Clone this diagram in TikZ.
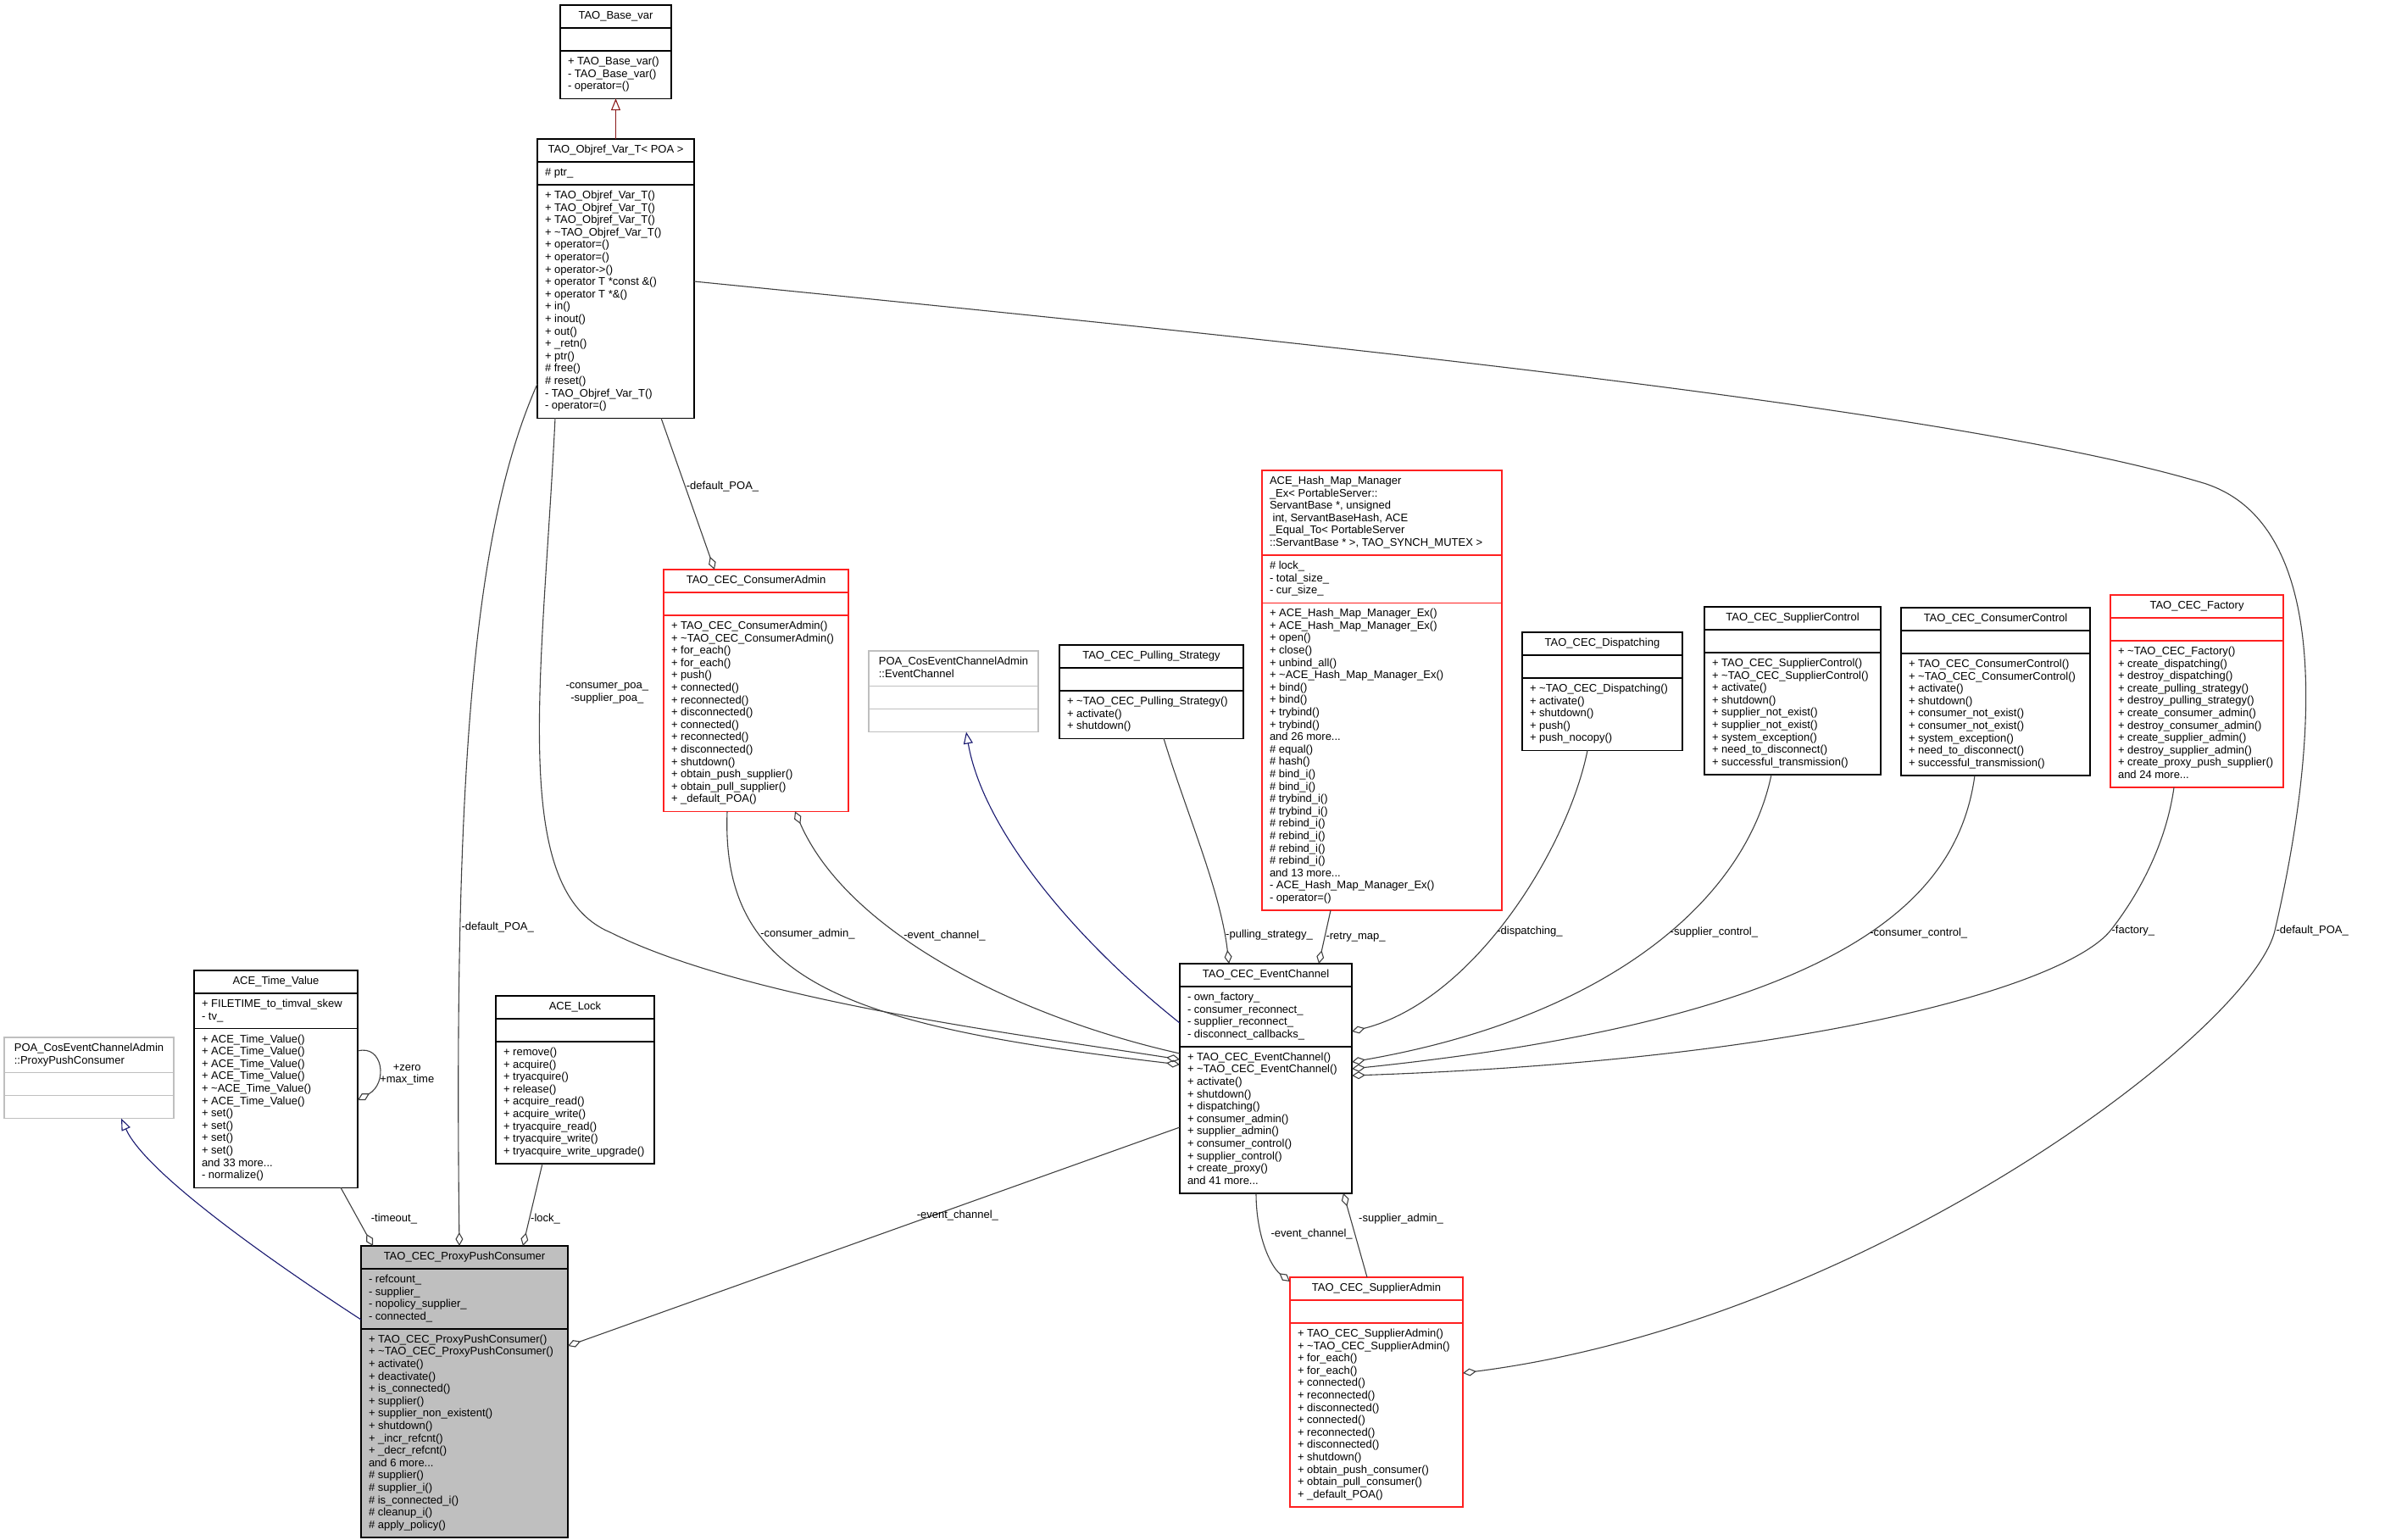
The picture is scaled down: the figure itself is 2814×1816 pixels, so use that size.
\documentclass[tikz,border=0pt]{standalone}
\usepackage{fontspec}
\setmainfont{Liberation Sans}
\usetikzlibrary{shapes.multipart,arrows.meta,calc}

\definecolor{edgegrey}{HTML}{404040}
\definecolor{pubblue}{HTML}{191970}
\definecolor{privred}{HTML}{8B1A1A}
\definecolor{undocgrey}{HTML}{BFBFBF}
\definecolor{truncred}{HTML}{FF2020}

\begin{document}
\begin{tikzpicture}[x=1pt,y=-1pt,font=\fontsize{13}{14.6}\selectfont]
    \tikzstyle{class box}=[rectangle split, rectangle split parts=3, draw=black, line width=1.4pt,
        outer sep=0pt, inner xsep=9pt, inner ysep=5.5pt, align=left, anchor=north west,
        rectangle split part align={center,left,left}]
    \tikzstyle{red class box}=[class box, draw=truncred]
    \tikzstyle{grey class box}=[class box, draw=undocgrey]
    \tikzstyle{this class box}=[class box, fill=undocgrey]
    \tikzstyle{member edge}=[draw=edgegrey, line width=1.1pt, -{Diamond[open,length=16pt,width=9pt]}]
    \tikzstyle{public edge}=[draw=pubblue, line width=1.1pt, -{Triangle[open,length=14pt,width=11pt]}]
    \tikzstyle{private edge}=[draw=privred, line width=1.1pt, -{Triangle[open,length=14pt,width=11pt]}]
    \tikzstyle{edge label}=[inner sep=1pt, align=center]

    \useasboundingbox (0,0) rectangle (2814,1816);

    % Bases
    \node[class box, minimum width=131pt] (basevar) at (661,6)
        {\strut TAO\_Base\_var\nodepart{second}\strut\nodepart{third}\strut+ TAO\_Base\_var()\\- TAO\_Base\_var()\\- operator=()\strut};
    \node[class box, minimum width=185pt] (objref) at (634,164)
        {\strut TAO\_Objref\_Var\_T< POA >\nodepart{second}\strut\# ptr\_\nodepart{third}\strut+ TAO\_Objref\_Var\_T()\\+ TAO\_Objref\_Var\_T()\\+ TAO\_Objref\_Var\_T()\\+ \textasciitilde TAO\_Objref\_Var\_T()\\+ operator=()\\+ operator=()\\+ operator->()\\+ operator T *const \&()\\+ operator T *\&()\\+ in()\\+ inout()\\+ out()\\+ \_retn()\\+ ptr()\\\# free()\\\# reset()\\- TAO\_Objref\_Var\_T()\\- operator=()\strut};
    \node[grey class box, minimum width=200pt] (poappc) at (5,1224)
        {\strut POA\_CosEventChannelAdmin\\::ProxyPushConsumer\strut\nodepart{second}\strut\nodepart{third}\strut};
    \node[grey class box, minimum width=200pt] (poaec) at (1025,768)
        {\strut POA\_CosEventChannelAdmin\\::EventChannel\strut\nodepart{second}\strut\nodepart{third}\strut};

    % Members of the proxy
    \node[class box, minimum width=193pt] (timevalue) at (229,1145)
        {\strut ACE\_Time\_Value\nodepart{second}\strut+ FILETIME\_to\_timval\_skew\\- tv\_\strut\nodepart{third}\strut+ ACE\_Time\_Value()\\+ ACE\_Time\_Value()\\+ ACE\_Time\_Value()\\+ ACE\_Time\_Value()\\+ \textasciitilde ACE\_Time\_Value()\\+ ACE\_Time\_Value()\\+ set()\\+ set()\\+ set()\\+ set()\\and 33 more...\\- normalize()\strut};
    \node[class box, minimum width=187pt] (lock) at (585,1175)
        {\strut ACE\_Lock\nodepart{second}\strut\nodepart{third}\strut+ remove()\\+ acquire()\\+ tryacquire()\\+ release()\\+ acquire\_read()\\+ acquire\_write()\\+ tryacquire\_read()\\+ tryacquire\_write()\\+ tryacquire\_write\_upgrade()\strut};
    \node[this class box, minimum width=244pt] (ppc) at (426,1470)
        {\strut TAO\_CEC\_ProxyPushConsumer\nodepart{second}\strut- refcount\_\\- supplier\_\\- nopolicy\_supplier\_\\- connected\_\strut\nodepart{third}\strut+ TAO\_CEC\_ProxyPushConsumer()\\+ \textasciitilde TAO\_CEC\_ProxyPushConsumer()\\+ activate()\\+ deactivate()\\+ is\_connected()\\+ supplier()\\+ supplier\_non\_existent()\\+ shutdown()\\+ \_incr\_refcnt()\\+ \_decr\_refcnt()\\and 6 more...\\\# supplier()\\\# supplier\_i()\\\# is\_connected\_i()\\\# cleanup\_i()\\\# apply\_policy()\strut};

    % Members of the event channel
    \node[red class box, minimum width=218pt] (cadmin) at (783,672)
        {\strut TAO\_CEC\_ConsumerAdmin\nodepart{second}\strut\nodepart{third}\strut+ TAO\_CEC\_ConsumerAdmin()\\+ \textasciitilde TAO\_CEC\_ConsumerAdmin()\\+ for\_each()\\+ for\_each()\\+ push()\\+ connected()\\+ reconnected()\\+ disconnected()\\+ connected()\\+ reconnected()\\+ disconnected()\\+ shutdown()\\+ obtain\_push\_supplier()\\+ obtain\_pull\_supplier()\\+ \_default\_POA()\strut};
    \node[class box, minimum width=217pt] (pulling) at (1250,761)
        {\strut TAO\_CEC\_Pulling\_Strategy\nodepart{second}\strut\nodepart{third}\strut+ \textasciitilde TAO\_CEC\_Pulling\_Strategy()\\+ activate()\\+ shutdown()\strut};
    \node[red class box, minimum width=283pt, rectangle split part align={left,left,left}] (hashmap) at (1489,555)
        {\strut ACE\_Hash\_Map\_Manager\\\_Ex< PortableServer::\\ServantBase *, unsigned\\\ int, ServantBaseHash, ACE\\\_Equal\_To< PortableServer\\::ServantBase * >, TAO\_SYNCH\_MUTEX >\strut\nodepart{second}\strut\# lock\_\\- total\_size\_\\- cur\_size\_\strut\nodepart{third}\strut+ ACE\_Hash\_Map\_Manager\_Ex()\\+ ACE\_Hash\_Map\_Manager\_Ex()\\+ open()\\+ close()\\+ unbind\_all()\\+ \textasciitilde ACE\_Hash\_Map\_Manager\_Ex()\\+ bind()\\+ bind()\\+ trybind()\\+ trybind()\\and 26 more...\\\# equal()\\\# hash()\\\# bind\_i()\\\# bind\_i()\\\# trybind\_i()\\\# trybind\_i()\\\# rebind\_i()\\\# rebind\_i()\\\# rebind\_i()\\\# rebind\_i()\\and 13 more...\\- ACE\_Hash\_Map\_Manager\_Ex()\\- operator=()\strut};
    \node[class box, minimum width=189pt] (dispatching) at (1796,746)
        {\strut TAO\_CEC\_Dispatching\nodepart{second}\strut\nodepart{third}\strut+ \textasciitilde TAO\_CEC\_Dispatching()\\+ activate()\\+ shutdown()\\+ push()\\+ push\_nocopy()\strut};
    \node[class box, minimum width=208pt] (supctrl) at (2011,716)
        {\strut TAO\_CEC\_SupplierControl\nodepart{second}\strut\nodepart{third}\strut+ TAO\_CEC\_SupplierControl()\\+ \textasciitilde TAO\_CEC\_SupplierControl()\\+ activate()\\+ shutdown()\\+ supplier\_not\_exist()\\+ supplier\_not\_exist()\\+ system\_exception()\\+ need\_to\_disconnect()\\+ successful\_transmission()\strut};
    \node[class box, minimum width=223pt] (conctrl) at (2243,717)
        {\strut TAO\_CEC\_ConsumerControl\nodepart{second}\strut\nodepart{third}\strut+ TAO\_CEC\_ConsumerControl()\\+ \textasciitilde TAO\_CEC\_ConsumerControl()\\+ activate()\\+ shutdown()\\+ consumer\_not\_exist()\\+ consumer\_not\_exist()\\+ system\_exception()\\+ need\_to\_disconnect()\\+ successful\_transmission()\strut};
    \node[red class box, minimum width=204pt] (factory) at (2490,702)
        {\strut TAO\_CEC\_Factory\nodepart{second}\strut\nodepart{third}\strut+ \textasciitilde TAO\_CEC\_Factory()\\+ create\_dispatching()\\+ destroy\_dispatching()\\+ create\_pulling\_strategy()\\+ destroy\_pulling\_strategy()\\+ create\_consumer\_admin()\\+ destroy\_consumer\_admin()\\+ create\_supplier\_admin()\\+ destroy\_supplier\_admin()\\+ create\_proxy\_push\_supplier()\\and 24 more...\strut};
    \node[class box, minimum width=203pt] (ec) at (1392,1137)
        {\strut TAO\_CEC\_EventChannel\nodepart{second}\strut- own\_factory\_\\- consumer\_reconnect\_\\- supplier\_reconnect\_\\- disconnect\_callbacks\_\strut\nodepart{third}\strut+ TAO\_CEC\_EventChannel()\\+ \textasciitilde TAO\_CEC\_EventChannel()\\+ activate()\\+ shutdown()\\+ dispatching()\\+ consumer\_admin()\\+ supplier\_admin()\\+ consumer\_control()\\+ supplier\_control()\\+ create\_proxy()\\and 41 more...\strut};
    \node[red class box, minimum width=204pt] (supadmin) at (1522,1507)
        {\strut TAO\_CEC\_SupplierAdmin\nodepart{second}\strut\nodepart{third}\strut+ TAO\_CEC\_SupplierAdmin()\\+ \textasciitilde TAO\_CEC\_SupplierAdmin()\\+ for\_each()\\+ for\_each()\\+ connected()\\+ reconnected()\\+ disconnected()\\+ connected()\\+ reconnected()\\+ disconnected()\\+ shutdown()\\+ obtain\_push\_consumer()\\+ obtain\_pull\_consumer()\\+ \_default\_POA()\strut};

    % Inheritance
    \draw[private edge] (objref.north) -- (basevar.south);
    \draw[public edge] ($(ppc.north west)+(0,87)$) .. controls (300,1475) and (170,1380) .. ($(poappc.south west)+(138,0)$);
    \draw[public edge] ($(ec.north west)+(0,70)$) .. controls (1270,1110) and (1160,980) .. ($(poaec.south west)+(115,0)$);

    % Members of the proxy
    \draw[member edge] ($(timevalue.south west)+(173,0)$) -- ($(ppc.north west)+(14,0)$)
        node[edge label, pos=0.534, anchor=west, xshift=14pt] {-timeout\_};
    \draw[member edge] ($(timevalue.north east)+(0,95)$) .. controls (452,1232) and (458,1278) .. ($(timevalue.north east)+(0,153)$)
        node[edge label, pos=0.5, anchor=west, yshift=-9.5pt] {+zero\\+max\_time};
    \draw[member edge] ($(lock.south west)+(55,0)$) -- ($(ppc.north west)+(191,0)$)
        node[edge label, pos=0.667, anchor=west] {-lock\_};
    \draw[member edge] ($(objref.north west)+(0,289)$) .. controls (560,620) and (535,900) .. ($(ppc.north west)+(116,0)$)
        node[edge label, pos=0.75, anchor=west] {-default\_POA\_};
    \draw[member edge] ($(ec.north west)+(0,193)$) -- ($(ppc.north west)+(244,118)$)
        node[edge label, pos=0.363, anchor=north, yshift=-3pt] {-event\_channel\_};

    % Members of the event channel
    \draw[member edge] ($(objref.south west)+(21,0)$) .. controls (640,800) and (600,1050) .. (720,1100)
        node[edge label, pos=0.39, anchor=west, xshift=29pt] {-consumer\_poa\_\\-supplier\_poa\_}
        .. controls (880,1180) and (1200,1220) .. ($(ec.north west)+(0,113)$);
    \draw[member edge] ($(cadmin.south west)+(75,0)$) .. controls (850,1160) and (1000,1210) .. ($(ec.north west)+(0,119)$)
        node[edge label, pos=0.3, anchor=west] {-consumer\_admin\_};
    \draw[member edge] ($(ec.north west)+(0,106)$) .. controls (1200,1200) and (1000,1100) .. ($(cadmin.south west)+(155,0)$)
        node[edge label, pos=0.61, anchor=west] {-event\_channel\_};
    \draw[member edge] ($(objref.south west)+(146,0)$) -- ($(cadmin.north west)+(60,0)$)
        node[edge label, pos=0.45, anchor=west] {-default\_POA\_};
    \draw[member edge] ($(pulling.south west)+(123,0)$) .. controls (1400,960) and (1440,1050) .. ($(ec.north west)+(58,0)$)
        node[edge label, pos=0.87, anchor=west] {-pulling\_strategy\_};
    \draw[member edge] ($(hashmap.south west)+(81,0)$) -- ($(ec.north west)+(164,0)$)
        node[edge label, pos=0.5, anchor=west] {-retry\_map\_};
    \draw[member edge] ($(dispatching.south west)+(77,0)$) .. controls (1850,1000) and (1740,1180) .. ($(ec.north east)+(0,80)$)
        node[edge label, pos=0.55, anchor=west] {-dispatching\_};
    \draw[member edge] ($(supctrl.south west)+(79,0)$) .. controls (2060,1060) and (1900,1200) .. ($(ec.north east)+(0,116)$)
        node[edge label, pos=0.45, anchor=west] {-supplier\_control\_};
    \draw[member edge] ($(conctrl.south west)+(87,0)$) .. controls (2310,1060) and (2180,1200) .. ($(ec.north east)+(0,124)$)
        node[edge label, pos=0.45, anchor=west] {-consumer\_control\_};
    \draw[member edge] ($(factory.south west)+(75,0)$) .. controls (2555,1000) and (2520,1060) .. (2490,1098)
        node[edge label, pos=1, anchor=west] {-factory\_}
        .. controls (2440,1160) and (2150,1250) .. ($(ec.north east)+(0,132)$);

    % Members of the supplier admin
    \draw[member edge] ($(objref.north west)+(185,168)$) .. controls (1500,400) and (2300,480) .. (2600,570)
        .. controls (2760,620) and (2730,900) .. (2684,1098)
        node[edge label, pos=1, anchor=west] {-default\_POA\_}
        .. controls (2656,1217) and (2200,1560) .. ($(supadmin.north west)+(204,113)$);
    \draw[member edge] ($(ec.south west)+(90,0)$) .. controls (1482,1460) and (1500,1495) .. ($(supadmin.north west)+(0,5)$)
        node[edge label, pos=0.35, anchor=west, xshift=10pt] {-event\_channel\_};
    \draw[member edge] ($(supadmin.north west)+(91,0)$) -- ($(ec.south west)+(193,0)$)
        node[edge label, pos=0.69, anchor=west, xshift=8pt] {-supplier\_admin\_};
\end{tikzpicture}
\end{document}
